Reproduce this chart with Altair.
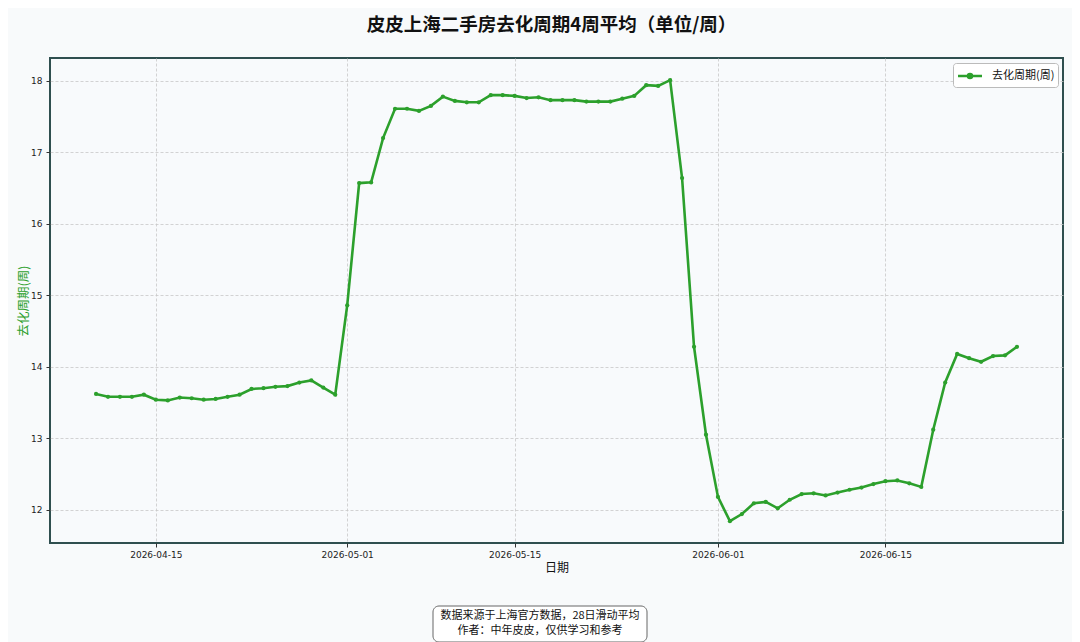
import altair as alt
import pandas as pd

start_date = "2026-04-10"
values = [
    13.62, 13.58, 13.58, 13.58, 13.61, 13.54, 13.53, 13.57, 13.56, 13.54,
    13.55, 13.58, 13.61, 13.69, 13.70, 13.72, 13.73, 13.78, 13.81, 13.71,
    13.61, 14.86, 16.57, 16.58, 17.20, 17.61, 17.61, 17.58, 17.65, 17.78,
    17.72, 17.70, 17.70, 17.80, 17.80, 17.79, 17.76, 17.77, 17.73, 17.73,
    17.73, 17.71, 17.71, 17.71, 17.75, 17.79, 17.94, 17.93, 18.01, 16.64,
    14.28, 13.05, 12.18, 11.84, 11.94, 12.09, 12.11, 12.02, 12.14, 12.22,
    12.23, 12.20, 12.24, 12.28, 12.31, 12.36, 12.40, 12.41, 12.37, 12.32,
    13.12, 13.78, 14.18, 14.12, 14.07, 14.15, 14.16, 14.28,
]
dates = [d.strftime("%Y-%m-%dT00:00:00") for d in pd.date_range(start_date, periods=len(values), freq="D")]
series_name = "去化周期(周)"
title_text = "皮皮上海二手房去化周期4周平均（单位/周）"
note_lines = ["数据来源于上海官方数据，28日滑动平均", "作者：中年皮皮，仅供学习和参考"]
y_ticks = [12, 13, 14, 15, 16, 17, 18]
x_ticks = [(4, 15), (5, 1), (5, 15), (6, 1), (6, 15)]

df = pd.DataFrame({"date": dates, "value": values, "series": series_name})

GREEN = "#2ca02c"
CJK = "Noto Sans CJK SC"

x_enc = alt.X(
    "date:T",
    title="日期",
    scale=alt.Scale(domain=[
        alt.DateTime(year=2026, month=4, date=6, hours=3, minutes=36),
        alt.DateTime(year=2026, month=6, date=29, hours=20, minutes=24),
    ]),
    axis=alt.Axis(
        values=[alt.DateTime(year=2026, month=m, date=d) for m, d in x_ticks],
        format="%Y-%m-%d",
        formatType="time",
        labelFont="DejaVu Sans",
        labelFontSize=9,
        labelColor="#222",
        labelPadding=3,
        tickSize=4,
        tickColor="#333",
        titleFont=CJK,
        titleFontSize=12,
        titleFontWeight="normal",
        titleColor="#111",
        titlePadding=3,
        grid=True,
        domain=False,
    ),
)
y_enc = alt.Y(
    "value:Q",
    title=series_name,
    scale=alt.Scale(domain=[11.535, 18.32], nice=False, zero=False),
    axis=alt.Axis(
        values=y_ticks,
        labelFont="DejaVu Sans",
        labelFontSize=9,
        labelColor="#222",
        labelPadding=4,
        tickSize=4,
        tickColor="#333",
        titleFont=CJK,
        titleFontSize=12.5,
        titleFontWeight="normal",
        titleColor=GREEN,
        titlePadding=0,
        grid=True,
        domain=False,
    ),
)

line = alt.Chart(df).mark_line(
    strokeWidth=2.6,
    point=alt.OverlayMarkDef(size=18, filled=True, color=GREEN),
).encode(
    x=x_enc,
    y=y_enc,
    color=alt.Color(
        "series:N",
        scale=alt.Scale(range=[GREEN]),
        legend=alt.Legend(
            title=None,
            orient="top-right",
            offset=5,
            padding=3,
            fillColor="#ffffff",
            strokeColor="#bbbbbb",
            cornerRadius=3,
            labelFont=CJK,
            labelFontSize=11,
            labelColor="#111",
            labelOffset=12,
            symbolOffset=4,
            symbolType="M-1.41,0L1.41,0M-0.24,0a0.24,0.24 0 1,0 0.48,0a0.24,0.24 0 1,0 -0.48,0",
            symbolSize=289,
            symbolStrokeWidth=2.5,
            symbolFillColor=GREEN,
            symbolStrokeColor=GREEN,
        ),
    ),
)

note_df = pd.DataFrame({"dummy": [0]})
box = alt.Chart(note_df).mark_rect(
    fill="#ffffff", stroke="#666666", strokeWidth=1, cornerRadius=6
).encode(
    x=alt.value(383), x2=alt.value(597), y=alt.value(548), y2=alt.value(584)
)
note1 = alt.Chart(note_df).mark_text(
    text=note_lines[0], font=CJK, fontSize=11, color="#111", align="center", baseline="middle"
).encode(x=alt.value(490), y=alt.value(558))
note2 = alt.Chart(note_df).mark_text(
    text=note_lines[1], font=CJK, fontSize=11, color="#111", align="center", baseline="middle"
).encode(x=alt.value(490), y=alt.value(572.5))

chart = alt.layer(line, box, note1, note2).properties(
    width=1013,
    height=485,
    title=alt.Title(
        title_text,
        font=CJK,
        fontSize=18.5,
        fontWeight="bold",
        color="#111",
        anchor="middle",
        dx=-5,
        offset=24,
    ),
    autosize=alt.AutoSizeParams(type="none"),
    padding={"left": 42, "top": 50, "right": 9, "bottom": 100},
    background="#f8fafb",
).configure(font=CJK).configure_view(
    fill="#f8fafc", stroke="#2f4f4f", strokeWidth=2
).configure_axis(
    gridColor="#c8c8c8", gridDash=[3, 2], gridWidth=0.8
)

chart.save("out.html", embed_options={"renderer": "svg", "actions": False})
